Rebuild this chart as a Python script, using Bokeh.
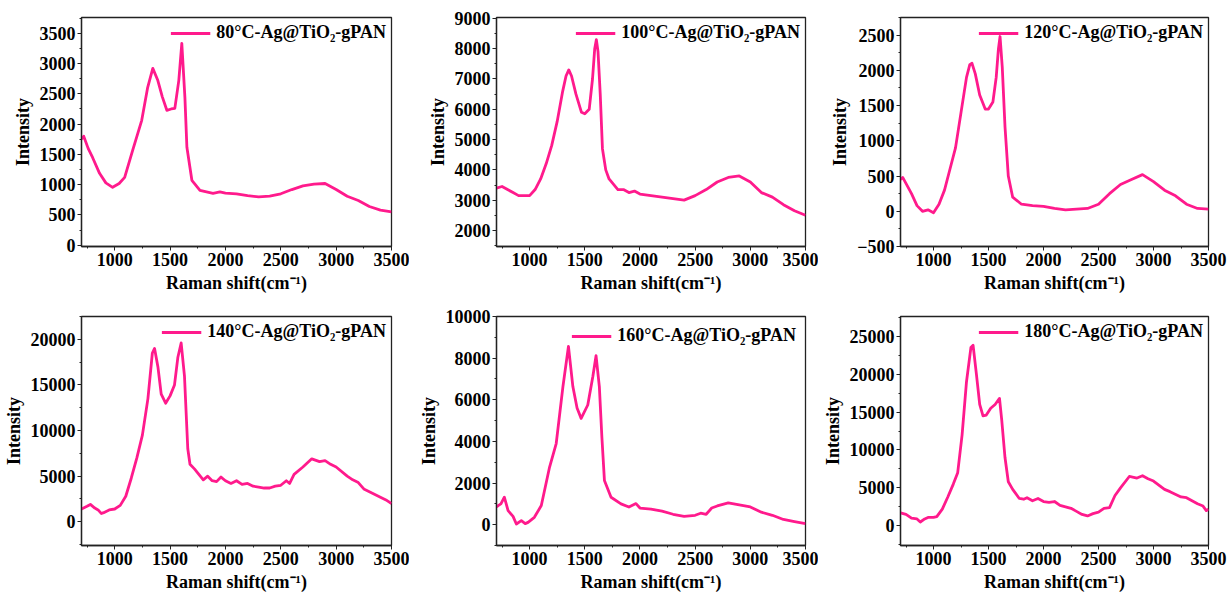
from bokeh.plotting import figure
from bokeh.layouts import gridplot
from bokeh.models import SingleIntervalTicker, Legend, LegendItem, Range1d
from bokeh.embed import file_html
from bokeh.resources import INLINE

# ---------------- data ----------------
labels = ["80°C-Ag@TiO₂-gPAN", "100°C-Ag@TiO₂-gPAN", "120°C-Ag@TiO₂-gPAN",
          "140°C-Ag@TiO₂-gPAN", "160°C-Ag@TiO₂-gPAN", "180°C-Ag@TiO₂-gPAN"]

x80 = [700, 720, 760, 800, 863, 920, 981, 1040, 1090, 1162, 1244, 1298, 1344, 1389, 1430, 1471,
       1510, 1543, 1579, 1606, 1634, 1652, 1697, 1770, 1888, 1950, 2000, 2100, 2200, 2300,
       2400, 2500, 2600, 2700, 2800, 2900, 3000, 3100, 3200, 3300, 3400, 3500]
y80 = [1750, 1800, 1600, 1450, 1188, 1030, 957, 1020, 1122, 1568, 2063, 2607, 2920, 2723, 2450, 2228,
       2250, 2260, 2723, 3333, 2442, 1617, 1073, 908, 858, 880, 860, 850, 820, 800,
       810, 850, 920, 980, 1010, 1020, 920, 810, 740, 640, 580, 550]

x100 = [700, 750, 800, 850, 900, 950, 1000, 1050, 1100, 1150, 1200, 1250, 1300, 1330, 1355, 1380,
        1420, 1470, 1500, 1540, 1570, 1590, 1605, 1620, 1640, 1660, 1690, 1720, 1800, 1850, 1900,
        1950, 2000, 2100, 2200, 2300, 2400, 2500, 2600, 2700, 2800, 2900, 3000, 3100, 3200, 3300,
        3400, 3500]
y100 = [3400, 3450, 3350, 3250, 3150, 3150, 3150, 3350, 3700, 4200, 4800, 5600, 6600, 7100, 7300, 7100,
        6500, 5900, 5850, 6000, 7000, 8000, 8300, 7900, 6500, 4700, 4000, 3700, 3350, 3350, 3250,
        3300, 3200, 3150, 3100, 3050, 3000, 3150, 3350, 3600, 3750, 3800, 3600, 3250, 3100, 2850,
        2650, 2500]

x120 = [700, 720, 800, 850, 900, 950, 1000, 1050, 1100, 1150, 1200, 1250, 1300, 1330, 1350, 1380,
        1420, 1470, 1500, 1540, 1570, 1590, 1605, 1625, 1650, 1680, 1720, 1800, 1900, 2000, 2100,
        2200, 2300, 2400, 2500, 2600, 2700, 2800, 2900, 3000, 3100, 3200, 3300, 3400, 3500]
y120 = [450, 480, 250, 80, 0, 20, -20, 100, 300, 600, 900, 1400, 1900, 2080, 2100, 1950,
        1650, 1450, 1450, 1550, 1900, 2300, 2480, 2050, 1200, 500, 200, 100, 80, 70, 40,
        20, 30, 40, 100, 250, 380, 450, 520, 420, 300, 220, 100, 40, 30]

x140 = [700, 750, 780, 820, 850, 880, 900, 950, 1000, 1050, 1100, 1150, 1200, 1250, 1300, 1340,
        1360, 1390, 1420, 1460, 1500, 1540, 1570, 1600, 1630, 1660, 1680, 1720, 1760, 1800, 1840,
        1880, 1920, 1960, 2000, 2050, 2100, 2150, 2200, 2250, 2300, 2350, 2400, 2450, 2500, 2550,
        2580, 2620, 2700, 2780, 2850, 2900, 2950, 3000, 3100, 3150, 3200, 3250, 3300, 3400, 3450, 3500]
y140 = [1400, 1700, 1900, 1500, 1300, 900, 1000, 1300, 1400, 1800, 2800, 4800, 7000, 9500, 13500, 18500,
        19000, 17000, 14000, 13000, 13800, 15000, 18000, 19600, 16000, 8000, 6300, 5800, 5200, 4600, 5000,
        4500, 4400, 4900, 4500, 4200, 4500, 4100, 4200, 3900, 3800, 3700, 3700, 3900, 4000, 4500,
        4200, 5200, 6000, 6900, 6600, 6700, 6300, 6000, 5000, 4600, 4300, 3600, 3300, 2700, 2400, 2000]

x160 = [700, 715, 740, 771, 805, 850, 880, 925, 960, 986, 1043, 1106, 1181, 1241, 1302, 1352,
        1392, 1430, 1467, 1527, 1573, 1602, 1632, 1655, 1678, 1738, 1828, 1900, 1964, 2000, 2100,
        2200, 2300, 2400, 2500, 2550, 2600, 2650, 2700, 2800, 2900, 3000, 3100, 3200, 3300, 3400,
        3500]
y160 = [850, 918, 1000, 1319, 676, 400, 34, 193, 50, 111, 353, 918, 2768, 3898, 6633, 8565,
        6633, 5600, 5106, 5749, 7116, 8116, 6633, 4200, 2125, 1319, 1000, 850, 1014, 800, 750,
        650, 500, 400, 450, 550, 500, 800, 900, 1050, 950, 850, 600, 450, 250, 150,
        50]

x180 = [700, 750, 800, 850, 880, 920, 950, 1000, 1030, 1080, 1130, 1180, 1220, 1260, 1300, 1340,
        1360, 1390, 1420, 1450, 1480, 1520, 1560, 1600, 1620, 1650, 1680, 1720, 1780, 1820, 1850,
        1900, 1950, 2000, 2050, 2100, 2150, 2200, 2250, 2300, 2350, 2400, 2450, 2500, 2550, 2600,
        2650, 2700, 2780, 2850, 2900, 2950, 3000, 3100, 3150, 3250, 3300, 3400, 3450, 3480, 3500]
y180 = [1700, 1500, 1000, 900, 500, 900, 1100, 1100, 1200, 2200, 3800, 5500, 7000, 12000, 19000, 23500,
        23800, 20000, 16000, 14500, 14600, 15500, 16000, 16800, 14000, 9000, 5800, 4800, 3600, 3500, 3700,
        3300, 3600, 3200, 3100, 3200, 2700, 2500, 2300, 1900, 1500, 1300, 1600, 1800, 2300, 2400,
        4000, 5000, 6500, 6300, 6600, 6200, 5900, 4800, 4500, 3800, 3700, 2900, 2600, 2000, 2200]

xs = [x80, x100, x120, x140, x160, x180]
ys = [y80, y100, y120, y140, y160, y180]
y_ranges = [(-20, 3760), (1470, 9030), (-500, 2750), (-2600, 22500), (-1000, 10000), (-2600, 27600)]
y_steps = [500, 1000, 500, 5000, 2000, 5000]

# ---------------- styling ----------------
COLOR = "#FF1A8C"
FONT = "Liberation Serif"
borders_lr = [(80, 18), (87, 13), (82, 19)]
borders_tb = [(17, 52), (18, 51)]
legend_margins = [5, 5, 5, 5, 9, 5]

figs = []
for i in range(6):
    r, c = divmod(i, 3)
    bl, br = borders_lr[c]
    bt, bb = borders_tb[r]
    p = figure(width=409, height=298, output_backend="svg", toolbar_location=None,
               x_range=Range1d(700, 3500), y_range=Range1d(*y_ranges[i]),
               min_border_left=bl, min_border_right=br, min_border_top=bt, min_border_bottom=bb,
               background_fill_color="white", border_fill_color="white")
    p.grid.visible = False
    p.outline_line_color = "#222222"
    p.outline_line_width = 1.3

    p.xaxis.ticker = SingleIntervalTicker(interval=500, num_minor_ticks=2)
    p.yaxis.ticker = SingleIntervalTicker(interval=y_steps[i], num_minor_ticks=2)
    for ax in (p.xaxis[0], p.yaxis[0]):
        ax.axis_line_color = "#222222"
        ax.axis_line_width = 1.3
        ax.major_tick_in = 0
        ax.major_tick_out = 4
        ax.minor_tick_in = 0
        ax.minor_tick_out = 2
        ax.major_tick_line_color = "#222222"
        ax.minor_tick_line_color = "#222222"
        ax.major_label_text_font = FONT
        ax.major_label_text_font_style = "bold"
        ax.major_label_text_font_size = "18px"
        ax.major_label_text_color = "black"
        ax.axis_label_text_font = FONT
        ax.axis_label_text_font_style = "bold"
        ax.axis_label_text_font_size = "18px"
        ax.axis_label_text_color = "black"
        ax.major_label_standoff = 2
        ax.axis_label_standoff = 4
    p.xaxis.axis_label = "Raman shift(cm⁻¹)"
    p.yaxis.axis_label = "Intensity"

    rend = p.line(xs[i], ys[i], line_color=COLOR, line_width=2.8, line_join="round")
    leg = Legend(items=[LegendItem(label=labels[i], renderers=[rend])], location="top_right",
                 border_line_color=None, background_fill_alpha=0,
                 glyph_width=40, glyph_height=18, label_height=18, label_standoff=6,
                 label_text_font=FONT, label_text_font_style="bold",
                 label_text_font_size="18px", label_text_color="black",
                 margin=legend_margins[i], padding=2)
    p.add_layout(leg)
    figs.append(p)

grid = gridplot([figs[0:3], figs[3:6]], toolbar_location=None)

open("out.html", "w").write(file_html(grid, INLINE))
